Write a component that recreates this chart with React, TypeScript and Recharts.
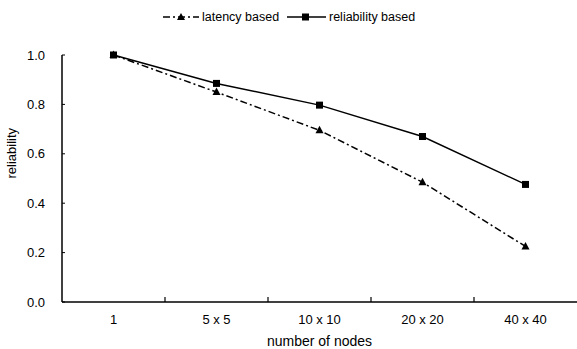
import React from 'react';
import {CartesianGrid, Line, LineChart, XAxis, YAxis} from 'recharts';

const categories = ['1', '5 x 5', '10 x 10', '20 x 20', '40 x 40'];
const latencyBased = [1.0, 0.85, 0.695, 0.485, 0.225];
const reliabilityBased = [1.0, 0.885, 0.797, 0.67, 0.476];
const yTicks = [0, 0.2, 0.4, 0.6, 0.8, 1.0];

const data = categories.map((name, i) => ({
    name,
    latency: latencyBased[i],
    reliability: reliabilityBased[i],
}));

const W = 577;
const H = 349;
const M = {top: 55, right: 0, bottom: 0, left: 0};
const Y_WIDTH = 62;
const X_HEIGHT = 47;
const BAND = (W - M.left - M.right - Y_WIDTH) / categories.length;
const FONT = '"Liberation Sans", Arial, sans-serif';
const DASH = '7 3 2 3';

const SquareDot = (props: any) => {
    const {cx, cy} = props;
    if (cx == null || cy == null) return null;
    return <rect x={cx - 3.5} y={cy - 3.5} width={7} height={7} fill="#000" />;
};

const TriangleDot = (props: any) => {
    const {cx, cy} = props;
    if (cx == null || cy == null) return null;
    return <path d={`M${cx},${cy - 4.5} L${cx + 4},${cy + 3} L${cx - 4},${cy + 3} Z`} fill="#000" />;
};

const XTick = (props: any) => {
    const {x, y, payload, index} = props;
    return (
        <g>
            {index < categories.length - 1 && (
                <line x1={x + BAND / 2} x2={x + BAND / 2} y1={y} y2={y - 5} stroke="#000" strokeWidth={1.2} />
            )}
            <text x={x} y={y + 22} textAnchor="middle" fontFamily={FONT} fontSize={13} fill="#000">
                {payload.value}
            </text>
        </g>
    );
};

const Legend = () => (
    <svg width={W} height={30} style={{position: 'absolute', left: 0, top: 0}}>
        <g fontFamily={FONT} fontSize={12.5} fill="#000">
            <line x1={163} x2={199} y1={17} y2={17} stroke="#000" strokeWidth={1.5} strokeDasharray={DASH} />
            <path d="M181,13 L185,20 L177,20 Z" fill="#000" />
            <text x={202} y={21}>latency based</text>
            <line x1={287} x2={326} y1={17} y2={17} stroke="#000" strokeWidth={1.5} />
            <rect x={302} y={13.5} width={7} height={7} fill="#000" />
            <text x={329} y={21}>reliability based</text>
        </g>
    </svg>
);

export default function App() {
    return (
        <div style={{position: 'absolute', left: 0, top: 0, width: W, height: H, background: '#fff'}}>
            <LineChart width={W} height={H} data={data} margin={M} style={{position: 'absolute', left: 0, top: 0}}>
                <CartesianGrid stroke="none" />
                <XAxis
                    dataKey="name"
                    height={X_HEIGHT}
                    padding={{left: BAND / 2, right: BAND / 2}}
                    axisLine={{stroke: '#000', strokeWidth: 1.5}}
                    tickLine={false}
                    tickSize={0}
                    tickMargin={0}
                    tick={<XTick />}
                    interval={0}
                    label={{value: 'number of nodes', position: 'insideBottom', offset: 3, fontFamily: FONT, fontSize: 14, fill: '#000'}}
                />
                <YAxis
                    domain={[0, 1]}
                    ticks={yTicks}
                    width={Y_WIDTH}
                    tickFormatter={(v: number) => v.toFixed(1)}
                    axisLine={{stroke: '#000', strokeWidth: 1.5}}
                    tickLine={{stroke: '#000'}}
                    tickSize={-3}
                    tickMargin={20}
                    tick={{fontFamily: FONT, fontSize: 13, fill: '#000'}}
                    label={{value: 'reliability', angle: -90, position: 'insideLeft', offset: 11, fontFamily: FONT, fontSize: 13, fill: '#000'}}
                />
                <Line
                    dataKey="latency"
                    stroke="#000"
                    strokeWidth={1.5}
                    strokeDasharray={DASH}
                    dot={<TriangleDot />}
                    isAnimationActive={false}
                />
                <Line
                    dataKey="reliability"
                    stroke="#000"
                    strokeWidth={1.5}
                    dot={<SquareDot />}
                    isAnimationActive={false}
                />
            </LineChart>
            <Legend />
        </div>
    );
}
